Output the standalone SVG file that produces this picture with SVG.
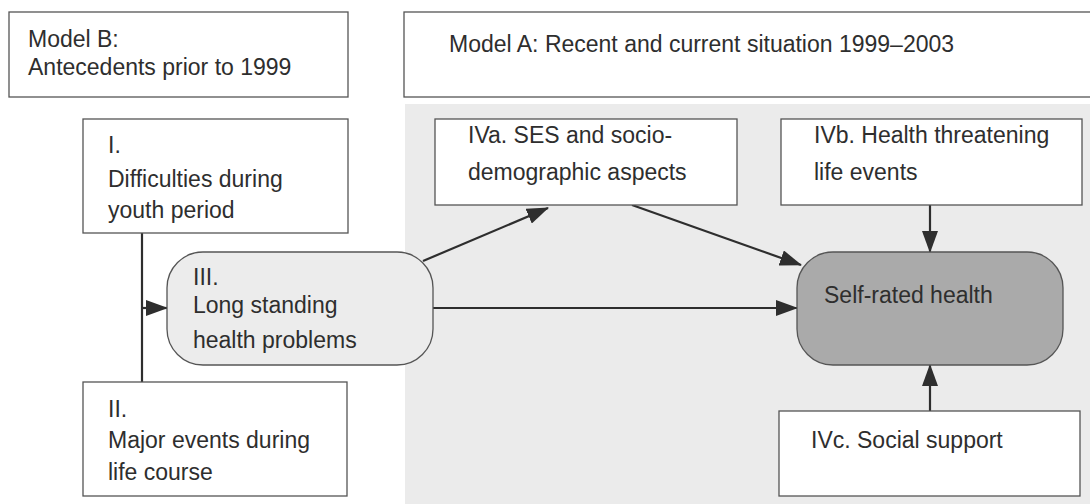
<svg xmlns="http://www.w3.org/2000/svg" width="1090" height="504" viewBox="0 0 1090 504">
<style>
text{font-family:"Liberation Sans",Arial,sans-serif;font-size:23px;fill:#2e2e2e}
.box{fill:#fff;stroke:#555;stroke-width:1.3}
.conn{stroke:#2e2e2e;stroke-width:2.2;fill:none}
</style>
<defs>
<marker id="ah" markerUnits="userSpaceOnUse" markerWidth="22" markerHeight="16" refX="21" refY="8" orient="auto">
<path d="M0,0 L22,8 L0,16 Z" fill="#2e2e2e"/>
</marker>
</defs>
<rect width="1090" height="504" fill="#fff"/>
<rect x="405" y="104" width="685" height="400" fill="#ebebeb"/>
<g id="modelB"><rect class="box" x="9" y="12" width="339" height="85"/><text x="28" y="47">Model B:</text><text x="28" y="75">Antecedents prior to 1999</text></g>
<g id="modelA"><rect class="box" x="404" y="12" width="700" height="85"/><text x="449" y="52">Model A: Recent and current situation 1999–2003</text></g>
<g id="connectors">
<line class="conn" x1="142" y1="233" x2="142" y2="382"/>
<line class="conn" x1="142" y1="308" x2="167" y2="308" marker-end="url(#ah)"/>
<line class="conn" x1="423" y1="261" x2="548" y2="208" marker-end="url(#ah)"/>
<line class="conn" x1="632" y1="205" x2="801" y2="265" marker-end="url(#ah)"/>
<line class="conn" x1="433" y1="308" x2="797" y2="308" marker-end="url(#ah)"/>
<line class="conn" x1="930" y1="205" x2="930" y2="252" marker-end="url(#ah)"/>
<line class="conn" x1="930" y1="411" x2="930" y2="365" marker-end="url(#ah)"/>
</g>
<g id="nodeI"><rect class="box" x="83" y="119" width="265" height="114"/><text x="108" y="153">I.</text><text x="108" y="187">Difficulties during</text><text x="108" y="218">youth period</text></g>
<g id="nodeII"><rect class="box" x="83" y="382" width="264" height="114"/><text x="108" y="417">II.</text><text x="108" y="448">Major events during</text><text x="108" y="480">life course</text></g>
<g id="nodeIII"><rect x="167" y="252" width="266" height="113" rx="36" ry="36" fill="#ececec" stroke="#555" stroke-width="1.3"/><text x="193" y="285">III.</text><text x="193" y="313">Long standing</text><text x="193" y="348">health problems</text></g>
<g id="nodeIVa"><rect class="box" x="435" y="119" width="302" height="86"/><text x="468" y="143">IVa. SES and socio-</text><text x="468" y="180">demographic aspects</text></g>
<g id="nodeIVb"><rect class="box" x="781" y="119" width="301" height="86"/><text x="814" y="143">IVb. Health threatening</text><text x="814" y="180">life events</text></g>
<g id="nodeSRH"><rect x="797" y="252" width="266" height="113" rx="36" ry="36" fill="#aaaaaa" stroke="#555" stroke-width="1.3"/><text x="824" y="303">Self-rated health</text></g>
<g id="nodeIVc"><rect class="box" x="779" y="411" width="301" height="85"/><text x="811" y="448">IVc. Social support</text></g>
</svg>
